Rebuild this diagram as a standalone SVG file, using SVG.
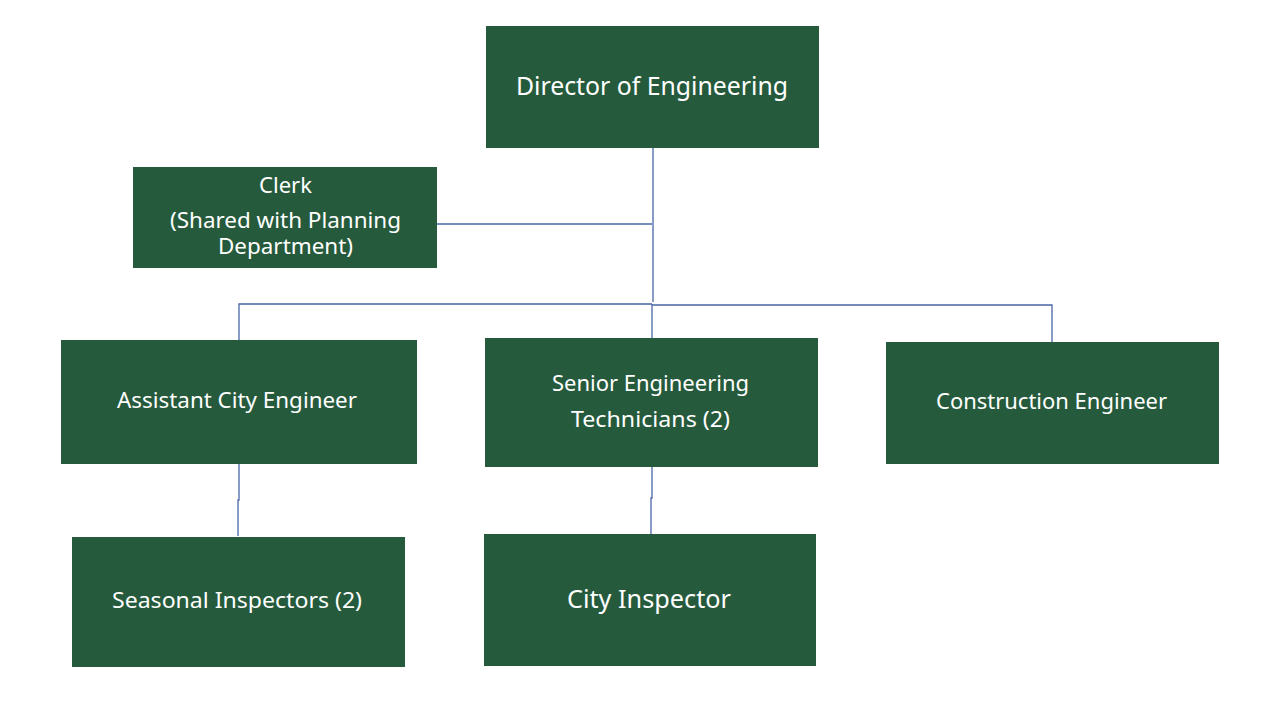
<svg xmlns="http://www.w3.org/2000/svg" width="1280" height="720" viewBox="0 0 1280 720">
<style>
.box{fill:#265A3C}
.t{font-family:"Noto Sans","Open Sans","Liberation Sans",sans-serif;fill:#ffffff;text-anchor:middle;dominant-baseline:central;lengthAdjust:spacingAndGlyphs}
.s20{font-size:21px}
.s24{font-size:25px}
.c{stroke:#4a66a8;stroke-width:1.3;fill:none}
</style>
<rect width="1280" height="720" fill="#ffffff"/>
<g id="connectors">
<path class="c" d="M653,148 V302"/>
<path class="c" d="M437,224 H652"/>
<path class="c" d="M239,340 V304 H652"/>
<path class="c" d="M652,304 V338"/>
<path class="c" d="M652,305 H1052 V342" stroke="#8c9cbd"/>
<path class="c" d="M239,464 V500 H238 V536"/>
<path class="c" d="M652,467 V498 H651 V534"/>
</g>
<g id="director">
<rect class="box" x="486" y="26" width="333" height="122"/>
<text class="t s24" x="652" y="85" textLength="272" lengthAdjust="spacingAndGlyphs">Director of Engineering</text>
</g>
<g id="clerk">
<rect class="box" x="133" y="167" width="304" height="101"/>
<text class="t s20" x="285.5" y="185" textLength="53" lengthAdjust="spacingAndGlyphs">Clerk</text>
<text class="t s20" x="285.5" y="220" textLength="231" lengthAdjust="spacingAndGlyphs">(Shared with Planning</text>
<text class="t s20" x="285.5" y="246" textLength="135" lengthAdjust="spacingAndGlyphs">Department)</text>
</g>
<g id="assistant">
<rect class="box" x="61" y="340" width="356" height="124"/>
<text class="t s20" x="237" y="400" textLength="240" lengthAdjust="spacingAndGlyphs">Assistant City Engineer</text>
</g>
<g id="senior">
<rect class="box" x="485" y="338" width="333" height="129"/>
<text class="t s20" x="650.5" y="383" textLength="197" lengthAdjust="spacingAndGlyphs">Senior Engineering</text>
<text class="t s20" x="650.5" y="419" textLength="159" lengthAdjust="spacingAndGlyphs">Technicians (2)</text>
</g>
<g id="construction">
<rect class="box" x="886" y="342" width="333" height="122"/>
<text class="t s20" x="1051.5" y="401" textLength="231" lengthAdjust="spacingAndGlyphs">Construction Engineer</text>
</g>
<g id="seasonal">
<rect class="box" x="72" y="537" width="333" height="130"/>
<text class="t s20" x="237" y="600" textLength="250" lengthAdjust="spacingAndGlyphs">Seasonal Inspectors (2)</text>
</g>
<g id="inspector">
<rect class="box" x="484" y="534" width="332" height="132"/>
<text class="t s24" x="649" y="598" textLength="164" lengthAdjust="spacingAndGlyphs">City Inspector</text>
</g>
</svg>
